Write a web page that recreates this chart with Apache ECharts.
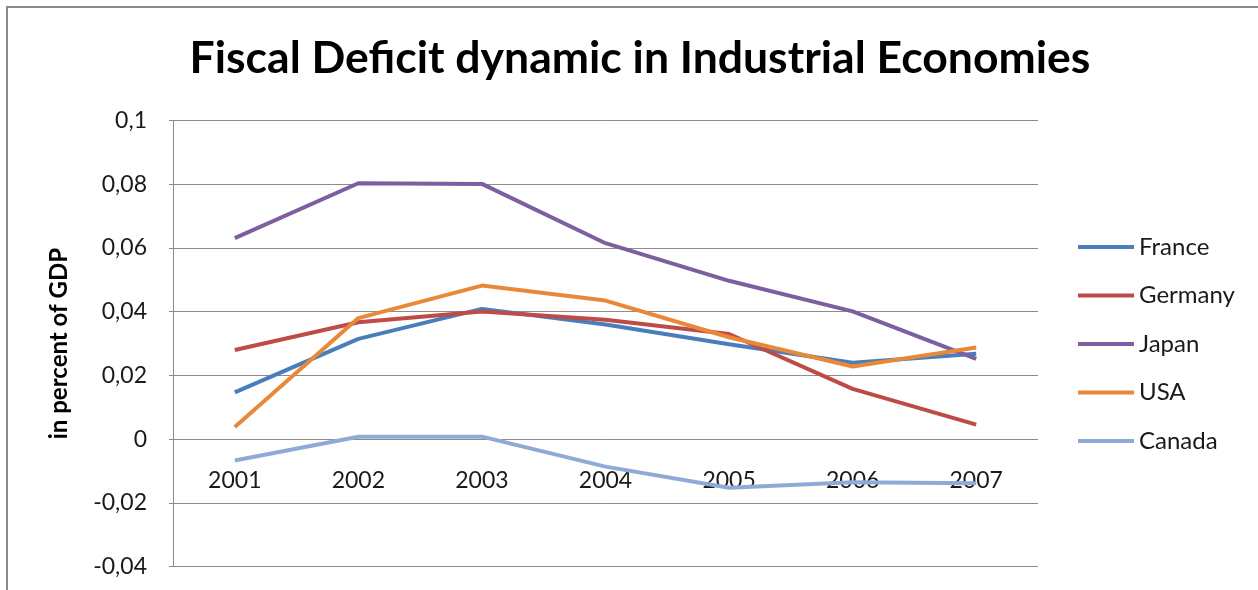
<!DOCTYPE html>
<html>
<head>
<meta charset="utf-8">
<script src="https://cdn.jsdelivr.net/npm/echarts@6/dist/echarts.min.js"></script>
<style>
  html, body { margin: 0; padding: 0; background: #fff; }
  #chart { width: 1258px; height: 590px; }
</style>
</head>
<body>
<div id="chart"></div>
<script>
  // data
  const years = ['2001', '2002', '2003', '2004', '2005', '2006', '2007']
  const france = [0.0147, 0.0315, 0.0409, 0.036, 0.0298, 0.024, 0.0268]
  const germany = [0.028, 0.0367, 0.0401, 0.0375, 0.033, 0.0158, 0.0046]
  const japan = [0.0631, 0.0803, 0.0801, 0.0615, 0.0497, 0.0401, 0.0252]
  const usa = [0.0038, 0.038, 0.0482, 0.0435, 0.032, 0.0228, 0.0288]
  const canada = [-0.0067, 0.0008, 0.0008, -0.0086, -0.0152, -0.0135, -0.0138]

  const font = 'Lato'
  const yMin = -0.04, yMax = 0.1
  const gridTop = 120.5, gridBottom = 23.3
  // category labels sit under the zero line, as in Excel
  const zeroOffset = (590 - gridTop - gridBottom) * (0 - yMin) / (yMax - yMin)

  const chart = echarts.init(document.getElementById('chart'))

  function line(name, data, color) {
    return {
      name: name,
      type: 'line',
      data: data,
      symbol: 'none',
      lineStyle: { color: color, width: 4 },
      itemStyle: { color: color }
    }
  }

  chart.setOption({
    animation: false,
    textStyle: { fontFamily: font },
    graphic: [{
      type: 'rect',
      shape: { x: 7, y: 7, width: 1300, height: 650 },
      style: { fill: 'none', stroke: '#8a8a8a', lineWidth: 2 },
      silent: true
    }],
    title: {
      text: 'Fiscal Deficit dynamic in Industrial Economies',
      left: 635,
      textAlign: 'center',
      top: 31,
      textStyle: { fontFamily: font, fontWeight: 'bold', fontSize: 44.5, color: '#000' }
    },
    legend: {
      orient: 'vertical',
      left: 1073,
      top: 230,
      icon: 'rect',
      itemWidth: 56,
      itemHeight: 4,
      itemGap: 24.5,
      textStyle: { fontFamily: font, fontSize: 24, color: '#1a1a1a', lineHeight: 24 },
      data: ['France', 'Germany', 'Japan', 'USA', 'Canada']
    },
    grid: { left: 173, right: 220, top: gridTop, bottom: gridBottom, containLabel: false, outerBoundsMode: 'none' },
    xAxis: {
      type: 'category',
      data: years,
      position: 'bottom',
      offset: -zeroOffset,
      axisLine: { show: false, onZero: false },
      axisTick: { show: false },
      axisLabel: { fontFamily: font, fontSize: 23, color: '#1a1a1a', margin: 30 }
    },
    yAxis: {
      type: 'value',
      min: yMin,
      max: yMax,
      interval: 0.02,
      name: 'in percent of GDP',
      nameLocation: 'middle',
      nameRotate: 90,
      nameGap: 102,
      nameTextStyle: { fontFamily: font, fontWeight: 'bold', fontSize: 24, color: '#000' },
      axisLine: { show: true, lineStyle: { color: '#8c8c8c' } },
      axisTick: { show: true, length: 4, lineStyle: { color: '#8c8c8c' } },
      splitLine: { lineStyle: { color: '#8c8c8c', width: 1 } },
      axisLabel: {
        fontFamily: font, fontSize: 23, color: '#1a1a1a', margin: 26,
        formatter: v => String(+v.toFixed(2)).replace('.', ',')
      }
    },
    series: [
      line('France', france, '#4a7ebb'),
      line('Germany', germany, '#be4b48'),
      line('Japan', japan, '#7d5fa0'),
      line('USA', usa, '#e8893a'),
      line('Canada', canada, '#8eaad6')
    ]
  })
</script>
</body>
</html>
